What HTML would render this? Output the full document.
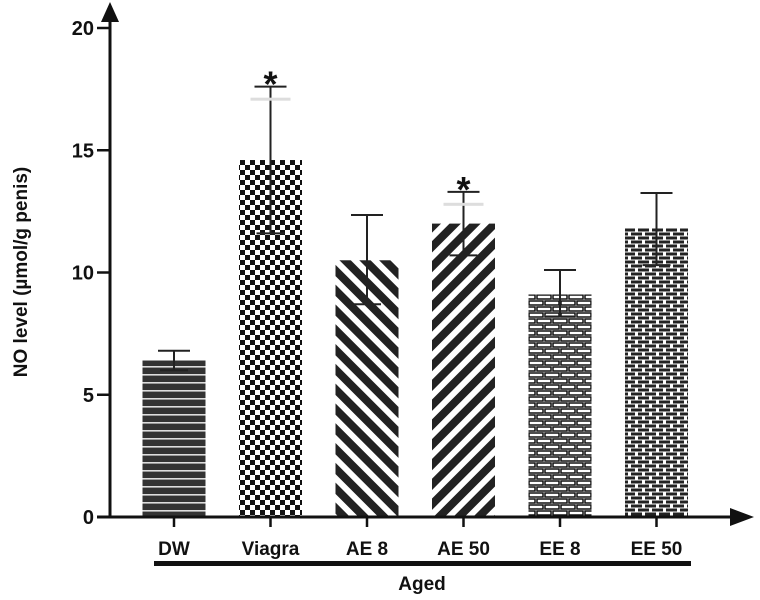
<!DOCTYPE html>
<html><head><meta charset="utf-8"><style>
body{margin:0;background:#fff;}
svg{display:block;font-family:"Liberation Sans",Arial,sans-serif;}
</style></head><body>
<svg id="chart" width="760" height="600">
<defs>
<pattern id="p-hstripe" width="10" height="8" patternUnits="userSpaceOnUse"><rect width="10" height="8" fill="#333"/><rect y="6" width="10" height="1.6" fill="#ddd"/></pattern>
<pattern id="p-check" width="10" height="10" patternUnits="userSpaceOnUse"><rect width="10" height="10" fill="#fff"/><rect width="5" height="5" fill="#111"/><rect x="5" y="5" width="5" height="5" fill="#111"/></pattern>
<pattern id="p-diag1" width="14" height="14" patternUnits="userSpaceOnUse" patternTransform="rotate(-45)"><rect width="14" height="14" fill="#fff"/><rect width="8" height="14" fill="#222"/></pattern>
<pattern id="p-diag2" width="14" height="14" patternUnits="userSpaceOnUse" patternTransform="rotate(45)"><rect width="14" height="14" fill="#fff"/><rect width="8" height="14" fill="#222"/></pattern>
<pattern id="p-brick1" width="16" height="12" patternUnits="userSpaceOnUse"><rect width="16" height="12" fill="#fff"/><rect x="1" y="1" width="14" height="4" fill="none" stroke="#111" stroke-width="1.5"/><rect x="-7" y="7" width="14" height="4" fill="none" stroke="#111" stroke-width="1.5"/><rect x="9" y="7" width="14" height="4" fill="none" stroke="#111" stroke-width="1.5"/></pattern>
<pattern id="p-brick2" width="14" height="8" patternUnits="userSpaceOnUse"><rect width="14" height="8" fill="#fff"/><rect x="1" y="0.5" width="11" height="3" fill="#222"/><rect x="-6" y="4.5" width="11" height="3" fill="#222"/><rect x="8" y="4.5" width="11" height="3" fill="#222"/></pattern>
</defs>
<g id="plot"></g>
</svg>
<script>
const categories=["DW","Viagra","AE 8","AE 50","EE 8","EE 50"];
const means=[6.4,14.6,10.5,12.0,9.1,11.8];
const errUp=[6.8,17.6,12.35,13.3,10.1,13.25];
const errLow=[6.0,11.6,8.7,10.7,8.2,10.3];
const signif=[false,true,false,true,false,false];
const yTicks=[0,5,10,15,20];
const fills=["p-hstripe","p-check","p-diag1","p-diag2","p-brick1","p-brick2"];
const NS="http://www.w3.org/2000/svg";
const g=document.getElementById('plot');
const x0=110,y0=517,yTop=28,yMax=20;
function ys(v){return y0-(v/yMax)*(y0-yTop);}
const slot=96.5,firstC=174,bw=63;
function xc(i){return firstC+i*slot;}
function mk(tag,attrs,parent){const e=document.createElementNS(NS,tag);for(const k in attrs)e.setAttribute(k,attrs[k]);(parent||g).appendChild(e);return e;}
categories.forEach((c,i)=>{
  const b=mk('rect',{x:xc(i)-bw/2,y:ys(means[i]),width:bw,height:y0-ys(means[i]),fill:'url(#'+fills[i]+')'});
  
  
  const e=mk('path',{d:`M${xc(i)} ${ys(errLow[i])}V${ys(errUp[i])}M${xc(i)-16} ${ys(errUp[i])}H${xc(i)+16}M${xc(i)-14} ${ys(errLow[i])}H${xc(i)+14}`,stroke:'#222','stroke-width':2,fill:'none'});
  
  
  if(signif[i]){
    const s=mk('text',{x:xc(i),y:ys(errUp[i])+10,'text-anchor':'middle','font-size':36,'font-weight':'bold',fill:'#111'});
    s.textContent='*';
    
    
    mk('rect',{x:xc(i)-20,y:ys(errUp[i])+11,width:40,height:3,fill:'#ddd'});
  }
  mk('line',{x1:xc(i),x2:xc(i),y1:y0,y2:y0+10,stroke:'#111','stroke-width':2.5});
  const t=mk('text',{x:xc(i),y:555,'text-anchor':'middle','font-size':19,'font-weight':'bold',fill:'#111'});
  t.textContent=c;
  
  
});
yTicks.forEach(v=>{
  mk('line',{x1:x0-13,x2:x0,y1:ys(v),y2:ys(v),stroke:'#111','stroke-width':2.5});
  const t=mk('text',{x:x0-16,y:ys(v)+7,'text-anchor':'end','font-size':20,'font-weight':'bold',fill:'#111'});
  t.textContent=v;
  
  
});
const ya=mk('path',{d:`M${x0} ${y0+1}V14`,stroke:'#111','stroke-width':3});


mk('path',{d:`M${x0-9} 22L${x0} 2L${x0+9} 22Z`,fill:'#111'});
const xa=mk('path',{d:`M${x0-13} ${y0}H738`,stroke:'#111','stroke-width':3});


mk('path',{d:`M730 ${y0-9}L754 ${y0}L730 ${y0+9}Z`,fill:'#111'});
const gl=mk('rect',{x:154,y:561,width:537,height:5,fill:'#111'});


const ag=mk('text',{x:422,y:590,'text-anchor':'middle','font-size':19,'font-weight':'bold',fill:'#111'});
ag.textContent='Aged';


const yt=mk('text',{x:0,y:0,transform:'translate(27,272) rotate(-90)','text-anchor':'middle','font-size':19,'font-weight':'bold',fill:'#111'});
yt.textContent='NO level (µmol/g  penis)';


</script>
</body></html>
